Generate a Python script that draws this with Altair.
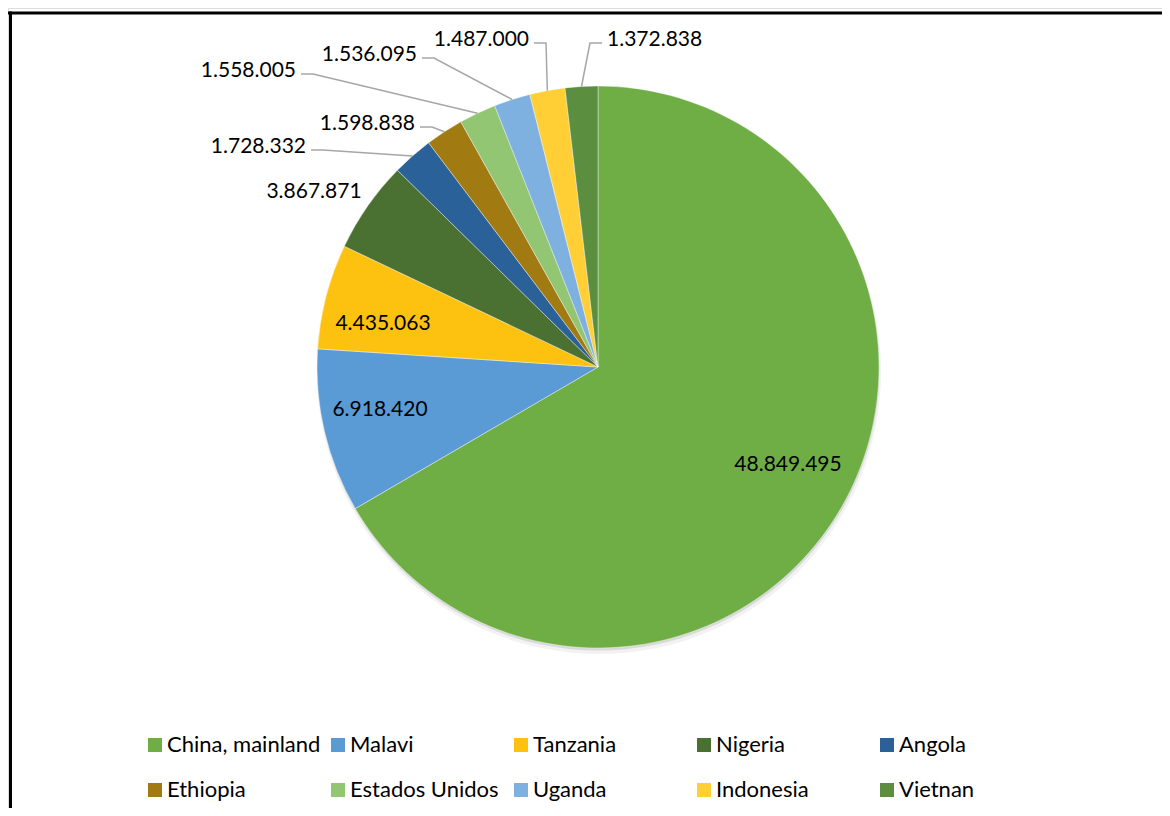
import math
import altair as alt
import pandas as pd

# ---------------- data ----------------
countries = ["China, mainland", "Malavi", "Tanzania", "Nigeria", "Angola",
             "Ethiopia", "Estados Unidos", "Uganda", "Indonesia", "Vietnan"]
values = [48849495, 6918420, 4435063, 3867871, 1728332,
          1598838, 1558005, 1536095, 1487000, 1372838]

# ---------------- style ----------------
colors = ["#6fae45", "#5a9bd6", "#fdc20f", "#4a7032", "#2b6199",
          "#a17a12", "#93c672", "#7eb0e0", "#ffcf35", "#5b8f3f"]
FONT = "Lato"
FS = 21
LEG_FS = 22
CX, CY, R = 590, 359, 281          # pie centre / radius (chart px)
# label anchor offsets from pie centre (dx, baseline dy, align), leader flag
label_place = [(190, 104, "center"), (-218, 49, "center"), (-215, -37, "center"),
               (-284, -169, "center"), (-292, -214, "right"), (-183, -237, "right"),
               (-302, -290, "right"), (-181, -306, "right"), (-69, -321, "right"),
               (9, -321, "left")]
has_leader = [False, False, False, False, True, True, True, True, True, True]

W, H = 1154, 800

# ---------------- derived tables ----------------
total = sum(values)
df = pd.DataFrame({"idx": range(len(countries)), "country": countries, "value": values})
df["label"] = [f"{v:,}".replace(",", ".") for v in values]

cum = 0.0
mids = []
for v in values:
    mids.append(2 * math.pi * (cum + v / 2) / total)
    cum += v

lab_rows, lead_rows = [], []
for i, (c, lab) in enumerate(zip(countries, df["label"])):
    dx, dy, al = label_place[i]
    tx, ty = CX + dx, CY + dy
    lab_rows.append({"country": c, "label": lab, "tx": tx, "ty": ty, "align": al})
    if has_leader[i]:
        ex = CX + R * math.sin(mids[i])
        ey = CY - R * math.cos(mids[i])
        ly = ty - 3
        sgn = 1 if al == "right" else -1
        sx = tx + sgn * 5
        bx = tx + sgn * 17
        for s, (px, py) in enumerate([(sx, ly), (bx, ly), (ex, ey)]):
            lead_rows.append({"country": c, "seq": s, "lx": px, "ly": py})
lab_df = pd.DataFrame(lab_rows)
lead_df = pd.DataFrame(lead_rows)
one = pd.DataFrame({"k": [0]})

# ---------------- layers ----------------
frame_top = alt.Chart(one).mark_rule(color="black", strokeWidth=3).encode(
    x=alt.value(0), x2=alt.value(W), y=alt.value(5), y2=alt.value(5))
frame_left = alt.Chart(one).mark_rule(color="black", strokeWidth=3).encode(
    x=alt.value(2.5), x2=alt.value(2.5), y=alt.value(3.5), y2=alt.value(H))

shadow1 = alt.Chart(one).mark_arc(outerRadius=R + 1, theta=0, theta2=2 * math.pi,
                                  color="black", opacity=0.05).encode(
    x=alt.value(CX + 1), y=alt.value(CY + 5))
shadow2 = alt.Chart(one).mark_arc(outerRadius=R, theta=0, theta2=2 * math.pi,
                                  color="black", opacity=0.10).encode(
    x=alt.value(CX + 0.5), y=alt.value(CY + 2.5))

pie = alt.Chart(df).mark_arc(outerRadius=R, stroke="white", strokeWidth=0.4).encode(
    theta=alt.Theta("value:Q", stack=True),
    color=alt.Color(
        "country:N",
        scale=alt.Scale(domain=countries, range=colors),
        legend=alt.Legend(
            title=None, orient="none", legendX=136, legendY=726,
            direction="horizontal", columns=5, gridAlign="all",
            symbolType="square", symbolSize=196, symbolStrokeWidth=0,
            labelFont=FONT, labelFontSize=LEG_FS, labelColor="black",
            labelOffset=1, columnPadding=6, rowPadding=23, padding=0,
            labelLimit=400,
        ),
    ),
    order=alt.Order("idx:Q"),
    x=alt.value(CX), y=alt.value(CY),
)

leaders = alt.Chart(lead_df).mark_line(color="#a6a6a6", strokeWidth=1.5).encode(
    x=alt.X("lx:Q", scale=None, axis=None),
    y=alt.Y("ly:Q", scale=None, axis=None),
    detail="country:N",
    order="seq:Q",
)

texts = []
for al in ["center", "right", "left"]:
    texts.append(
        alt.Chart(lab_df[lab_df["align"] == al]).mark_text(
            align=al, baseline="alphabetic", font=FONT, fontSize=FS, color="black"
        ).encode(
            x=alt.X("tx:Q", scale=None, axis=None),
            y=alt.Y("ty:Q", scale=None, axis=None),
            text="label:N",
        )
    )

chart = alt.layer(frame_top, frame_left, shadow1, shadow2, pie, leaders, *texts).properties(
    width=W, height=H,
    autosize=alt.AutoSizeParams(type="none"),
    padding=0,
).configure_view(stroke=None).configure(background="white")

chart.save("out.html", embed_options={"renderer": "svg", "actions": False})
